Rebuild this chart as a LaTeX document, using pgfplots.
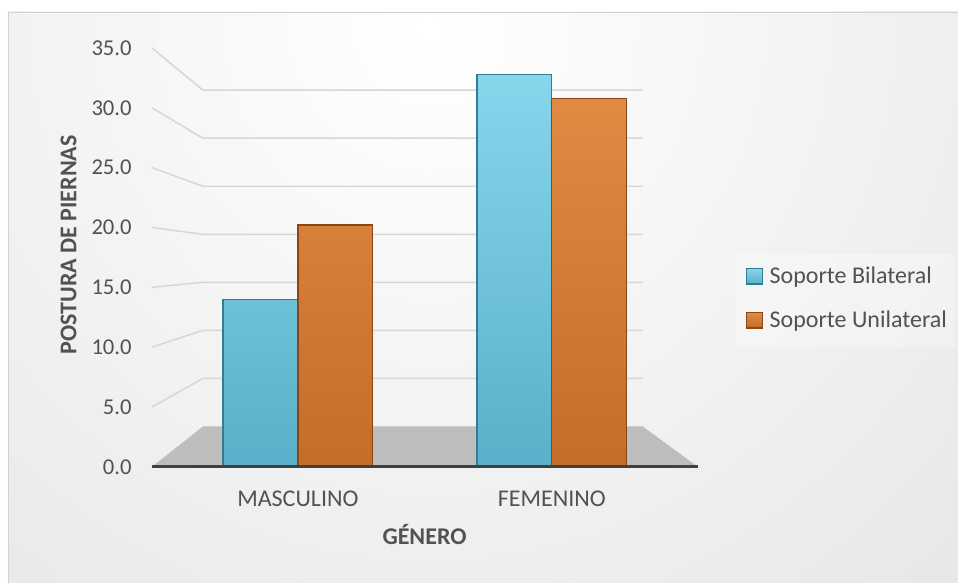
\documentclass[border=0pt]{standalone}
\usepackage{pgfplots}
\pgfplotsset{compat=1.18}
\usepackage{fontspec}
\setmainfont{Carlito}

\definecolor{txt}{HTML}{525252}
\definecolor{bilA}{HTML}{86D6EC}
\definecolor{bilB}{HTML}{5AB0C8}
\definecolor{bilE}{HTML}{2E7F96}
\definecolor{uniA}{HTML}{E08A44}
\definecolor{uniB}{HTML}{C46C28}
\definecolor{uniE}{HTML}{8C4612}
\definecolor{gridc}{HTML}{D6D6D6}
\definecolor{floorc}{HTML}{BDBDBD}
\definecolor{axisc}{HTML}{404040}

\begin{document}
\begin{tikzpicture}
% page and chart area
\fill[white] (0,0) rectangle (718.5pt,437.25pt);
\begin{scope}
  \clip (6pt,0pt) rectangle (718.5pt,428.25pt);
  \shade[inner color=white, outer color=black!17] (322.5pt,414.75pt) circle (1050pt);
\end{scope}
\draw[black!18, line width=0.6pt] (6.3pt,0pt) -- (6.3pt,427.95pt) -- (718.5pt,427.95pt);
% legend panel
\fill[white, fill opacity=0.3] (551.25pt,177pt) rectangle (716.25pt,246.75pt);

\begin{axis}[
  at={(114pt,87pt)}, anchor=south west,
  width=409.5pt, height=314.25pt, scale only axis,
  xmin=-0.5748, xmax=1.5748, ymin=0, ymax=35,
  ybar=0pt, bar width=0.295,
  xtick=data, xticklabels={MASCULINO,FEMENINO},
  ytick={0,5,...,35},
  yticklabel={\pgfmathprintnumber[fixed,fixed zerofill,precision=1,assume math mode=true]{\tick}},
  axis x line*=bottom, axis y line*=left,
  x axis line style={draw=axisc, line width=2.2pt, -},
  y axis line style={draw=none},
  major tick length=0pt, tick style={draw=none},
  ticklabel style={font=\fontsize{17}{20}\selectfont, text=txt},
  yticklabel style={anchor=east, inner sep=0pt, xshift=-15pt},
  xticklabel style={anchor=north, inner sep=0pt, yshift=-17.8pt, font=\fontsize{18}{21}\selectfont},
  axis on top,
  legend style={at={(1.0678,0.5036)}, anchor=north west, draw=none, fill=none,
    inner sep=6pt, row sep=15pt, font=\fontsize{18}{21}\selectfont, text=txt,
    cells={anchor=west}},
  legend image code/.code={
    \draw[#1] (2pt,-5.8pt) rectangle (14pt,5.8pt);
    \path (0pt,0pt) (17pt,0pt);},
]
% floor
\fill[floorc] (axis cs:-0.5748,0) -- (axis cs:1.5748,0) -- (axis cs:1.3583,3.37) -- (axis cs:-0.374,3.37) -- cycle;
% side and back wall gridlines
\pgfplotsinvokeforeach{5,10,15,20,25,30,35}{
  \draw[gridc, line width=1.1pt] (axis cs:-0.5748,#1) -- (axis cs:-0.374,{3.37+0.803*#1}) -- (axis cs:1.3583,{3.37+0.803*#1});
}
\addplot[top color=bilA, bottom color=bilB, draw=bilE, line width=1pt]
  coordinates {(0,14.0) (1,32.8)};
\addplot[top color=uniA, bottom color=uniB, draw=uniE, line width=1pt]
  coordinates {(0,20.2) (1,30.8)};
\legend{Soporte Bilateral, Soporte Unilateral}
\end{axis}

\node[rotate=90, font=\bfseries\fontsize{18}{21}\selectfont, text=txt] at (51.4pt,253.5pt) {POSTURA DE PIERNAS};
\node[anchor=base, font=\bfseries\fontsize{18}{21}\selectfont, text=txt] at (318.5pt,28.5pt) {GÉNERO};
\end{tikzpicture}
\end{document}
